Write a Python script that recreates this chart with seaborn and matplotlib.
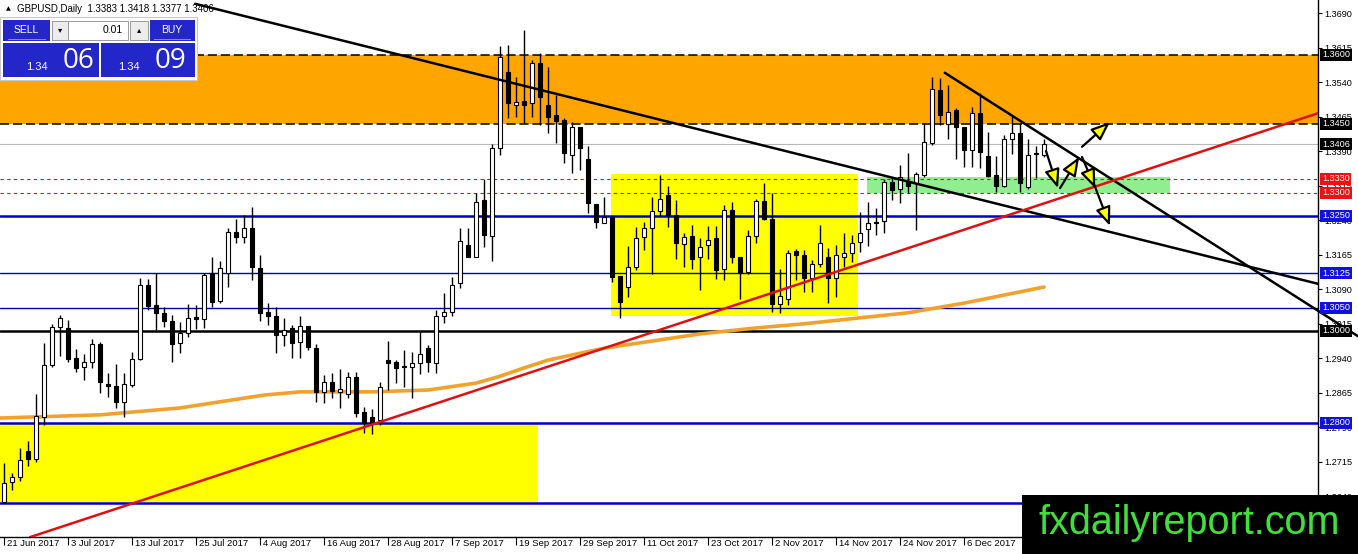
import matplotlib
matplotlib.use("Agg")
import numpy as np
import pandas as pd
import matplotlib.pyplot as plt
import matplotlib.transforms as mtransforms
from matplotlib.patches import Rectangle, FancyArrowPatch
import seaborn as sns

# ---------------------------
# Daily candles, index 0 = 21 Jun 2017
# ---------------------------
opens = [1.2628, 1.2672, 1.2681, 1.2739, 1.2722, 1.2813, 1.2925, 1.3007, 1.3005, 1.2940,
         1.2920, 1.2933, 1.2971, 1.2884, 1.2880, 1.2846, 1.2882, 1.2938, 1.3099, 1.3056,
         1.3039, 1.3022, 1.2973, 1.2996, 1.3030, 1.3025, 1.3125, 1.3065, 1.3125, 1.3214,
         1.3203, 1.3223, 1.3136, 1.3040, 1.3033, 1.2990, 1.3005, 1.2976, 1.3010, 1.2962,
         1.2867, 1.2889, 1.2867, 1.2862, 1.2899, 1.2824, 1.2812, 1.2806, 1.2936, 1.2933,
         1.2923, 1.2922, 1.2930, 1.2962, 1.2930, 1.3032, 1.3041, 1.3103, 1.3186, 1.3161,
         1.3284, 1.3206, 1.3397, 1.3563, 1.3491, 1.3500, 1.3495, 1.3582, 1.3491, 1.3469,
         1.3458, 1.3382, 1.3444, 1.3373, 1.3276, 1.3235, 1.3248, 1.3119, 1.3096, 1.3139,
         1.3203, 1.3223, 1.3261, 1.3295, 1.3252, 1.3189, 1.3206, 1.3160, 1.3186, 1.3201,
         1.3134, 1.3263, 1.3161, 1.3128, 1.3206, 1.3283, 1.3244, 1.3058, 1.3070, 1.3174,
         1.3165, 1.3114, 1.3145, 1.3161, 1.3114, 1.3161, 1.3170, 1.3194, 1.3221, 1.3237,
         1.3239, 1.3323, 1.3308, 1.3324, 1.3322, 1.3339, 1.3408, 1.3523, 1.3450, 1.3480,
         1.3444, 1.3392, 1.3474, 1.3380, 1.3339, 1.3315, 1.3418, 1.3429, 1.3312, 1.3385,
         1.3383]
highs = [1.2712, 1.2691, 1.2744, 1.2761, 1.2862, 1.2973, 1.3015, 1.3034, 1.3023, 1.2960,
         1.2949, 1.2983, 1.2976, 1.2907, 1.2928, 1.2907, 1.2954, 1.3114, 1.3112, 1.3125,
         1.3052, 1.3034, 1.3020, 1.3058, 1.3056, 1.3125, 1.3161, 1.3152, 1.3223, 1.3244,
         1.3252, 1.3270, 1.3165, 1.3060, 1.3052, 1.3027, 1.3012, 1.3032, 1.3010, 1.2971,
         1.2904, 1.2909, 1.2916, 1.2911, 1.2911, 1.2835, 1.2830, 1.2889, 1.2978, 1.2936,
         1.2958, 1.2954, 1.2998, 1.2969, 1.3045, 1.3081, 1.3117, 1.3223, 1.3223, 1.3300,
         1.3331, 1.3406, 1.3619, 1.3621, 1.3552, 1.3655, 1.3589, 1.3604, 1.3574, 1.3513,
         1.3462, 1.3455, 1.3444, 1.3402, 1.3276, 1.3291, 1.3248, 1.3119, 1.3184, 1.3226,
         1.3237, 1.3291, 1.3339, 1.3315, 1.3284, 1.3212, 1.3230, 1.3201, 1.3228, 1.3228,
         1.3273, 1.3281, 1.3161, 1.3219, 1.3286, 1.3321, 1.3300, 1.3134, 1.3176, 1.3177,
         1.3176, 1.3154, 1.3230, 1.3179, 1.3186, 1.3212, 1.3208, 1.3259, 1.3281, 1.3266,
         1.3331, 1.3335, 1.3360, 1.3386, 1.3345, 1.3451, 1.3551, 1.3549, 1.3534, 1.3484,
         1.3444, 1.3487, 1.3516, 1.3433, 1.3380, 1.3426, 1.3466, 1.3451, 1.3418, 1.3402,
         1.3418]
lows = [1.2625, 1.2654, 1.2674, 1.2706, 1.2715, 1.2795, 1.2922, 1.2945, 1.2933, 1.2911,
        1.2893, 1.2918, 1.2865, 1.2855, 1.2831, 1.2812, 1.2878, 1.2936, 1.3045, 1.3002,
        1.3009, 1.2933, 1.2951, 1.2987, 1.3003, 1.3005, 1.3052, 1.3061, 1.3096, 1.3190,
        1.3191, 1.3110, 1.3022, 1.3012, 1.2952, 1.2967, 1.2940, 1.2940, 1.2957, 1.2846,
        1.2842, 1.2853, 1.2831, 1.2853, 1.2813, 1.2778, 1.2776, 1.2795, 1.2871, 1.2886,
        1.2878, 1.2853, 1.2906, 1.2911, 1.2909, 1.3017, 1.3032, 1.3092, 1.3161, 1.3161,
        1.3183, 1.3152, 1.3382, 1.3462, 1.3465, 1.3451, 1.3465, 1.3447, 1.3429, 1.3409,
        1.3364, 1.3342, 1.3349, 1.3257, 1.3223, 1.3234, 1.3107, 1.3027, 1.3074, 1.3131,
        1.3176, 1.3123, 1.3249, 1.3225, 1.3155, 1.3139, 1.3134, 1.3089, 1.3157, 1.3112,
        1.3110, 1.3148, 1.3070, 1.3123, 1.3191, 1.3241, 1.3041, 1.3039, 1.3056, 1.3110,
        1.3085, 1.3085, 1.3139, 1.3061, 1.3074, 1.3139, 1.3150, 1.3172, 1.3184, 1.3208,
        1.3212, 1.3284, 1.3278, 1.3299, 1.3219, 1.3335, 1.3404, 1.3447, 1.3417, 1.3373,
        1.3357, 1.3357, 1.3353, 1.3335, 1.3302, 1.3313, 1.3384, 1.3302, 1.3308, 1.3333,
        1.3377]
closes = [1.2669, 1.2681, 1.2719, 1.2722, 1.2814, 1.2925, 1.3007, 1.3027, 1.2938, 1.2918,
          1.2933, 1.2971, 1.2889, 1.2880, 1.2846, 1.2884, 1.2938, 1.3099, 1.3054, 1.3039,
          1.3022, 1.2971, 1.2994, 1.3027, 1.3025, 1.3121, 1.3063, 1.3136, 1.3215, 1.3203,
          1.3223, 1.3138, 1.3039, 1.3033, 1.2990, 1.3002, 1.2974, 1.3010, 1.2964, 1.2867,
          1.2889, 1.2869, 1.2874, 1.2899, 1.2822, 1.2799, 1.2799, 1.2878, 1.2930, 1.2918,
          1.2920, 1.2930, 1.2949, 1.2933, 1.3032, 1.3041, 1.3099, 1.3196, 1.3161, 1.3281,
          1.3208, 1.3397, 1.3595, 1.3495, 1.3498, 1.3491, 1.3583, 1.3509, 1.3465, 1.3457,
          1.3386, 1.3442, 1.3397, 1.3277, 1.3237, 1.3247, 1.3117, 1.3063, 1.3139, 1.3201,
          1.3223, 1.3261, 1.3286, 1.3252, 1.3190, 1.3203, 1.3157, 1.3183, 1.3197, 1.3131,
          1.3263, 1.3160, 1.3125, 1.3206, 1.3283, 1.3244, 1.3058, 1.3075, 1.3170, 1.3165,
          1.3114, 1.3145, 1.3190, 1.3114, 1.3165, 1.3170, 1.3191, 1.3213, 1.3234, 1.3234,
          1.3323, 1.3306, 1.3335, 1.3315, 1.3341, 1.3411, 1.3525, 1.3469, 1.3476, 1.3442,
          1.3393, 1.3474, 1.3389, 1.3336, 1.3315, 1.3418, 1.3429, 1.3321, 1.3382, 1.3384,
          1.3406]

date_labels = ["21 Jun 2017", "3 Jul 2017", "13 Jul 2017", "25 Jul 2017", "4 Aug 2017",
               "16 Aug 2017", "28 Aug 2017", "7 Sep 2017", "19 Sep 2017", "29 Sep 2017",
               "11 Oct 2017", "23 Oct 2017", "2 Nov 2017", "14 Nov 2017", "24 Nov 2017",
               "6 Dec 2017"]

# moving average (orange), read at a few bars
ma_idx = [-0.5, 12, 22, 32.5, 37, 46, 53, 59, 62, 65, 68, 75, 87, 94, 100, 113, 120, 130]
ma_val = [1.2810, 1.2817, 1.2832, 1.2860, 1.2867, 1.2867, 1.2871, 1.2886, 1.2901, 1.2919,
          1.2936, 1.2962, 1.2993, 1.3006, 1.3015, 1.3039, 1.3060, 1.3095]

# price axis
y_ticks = [1.3690, 1.3615, 1.3540, 1.3465, 1.3390, 1.3315, 1.3240, 1.3165, 1.3090,
           1.3015, 1.2940, 1.2865, 1.2790, 1.2715, 1.2640]

# horizontal levels
resist_zone = [1.3450, 1.3600]
zone_dashed = [1.3600, 1.3450]
bid_line = [1.3406]
red_dashed = [1.3330, 1.3300]
blue_thick = [1.3250, 1.2800, 1.2626]
blue_thin = [1.3125, 1.3050]
black_thick = [1.3000]

label_black = [1.3600, 1.3450, 1.3406, 1.3000]
label_red = [1.3330, 1.3300]
label_blue = [1.3250, 1.3125, 1.3050, 1.2800]

# boxes (bar-index range, price range)
yellow_low = ([-0.5, 66.75], [1.2628, 1.2800])
yellow_mid = ([75.9, 106.8], [1.3033, 1.3341])
green_box = ([107.9, 145.75], [1.3299, 1.3334])

# trend lines
trend_long = ([23.9, 164.25], [1.3711, 1.3102])
trend_short = ([117.6, 169.25], [1.3561, 1.2988])
trend_up = ([3.25, 164.25], [1.2551, 1.3473])

# scenario arrows (x0, y0, x1, y1)
arrows = [(130.25, 1.3391, 131.75, 1.3310),
          (132.0, 1.3310, 134.4, 1.3378),
          (134.75, 1.3378, 136.4, 1.3310),
          (134.75, 1.3400, 138.25, 1.3454),
          (136.25, 1.3319, 138.25, 1.3228)]

# ---------------------------
# Figure
# ---------------------------
sns.set_theme(style="white")
plt.rcParams['font.family'] = ['Liberation Sans', 'DejaVu Sans']

W, H = 1358, 554
fig = plt.figure(figsize=(W / 100, H / 100), dpi=100)
fig.patch.set_facecolor("white")
ax = fig.add_axes([0, 17 / H, 1318 / W, 537 / H])
ax.set_facecolor("white")
ax.set_xlim(-0.5, 164.25)
ax.set_ylim(1.25513, 1.37193)

# zones
ax.add_patch(Rectangle((-0.5, resist_zone[0]), 170, resist_zone[1] - resist_zone[0],
                       fc="#FFA500", ec="none", zorder=0))
for (xs, ys), col in [(yellow_low, "#FFFF00"), (yellow_mid, "#FFFF00"), (green_box, "#90EE90")]:
    ax.add_patch(Rectangle((xs[0], ys[0]), xs[1] - xs[0], ys[1] - ys[0],
                           fc=col, ec="none", zorder=0.5))

# horizontal lines
for p in zone_dashed:
    ax.axhline(p, color="black", lw=1.1, ls=(0, (6, 2.5)), zorder=1)
for p in bid_line:
    ax.axhline(p, color="#b8b8b8", lw=0.8, zorder=1)
for p in red_dashed:
    ax.axhline(p, color="#dd1111", lw=0.8, ls=(0, (3, 3)), zorder=1)
for p in blue_thick:
    ax.axhline(p, color="#0000c8", lw=1.8, zorder=1)
for p in blue_thin:
    ax.axhline(p, color="#0000b0", lw=1.0, zorder=1)
for p in black_thick:
    ax.axhline(p, color="black", lw=1.8, zorder=1)

# moving average
ma_df = pd.DataFrame({"bar": ma_idx, "ma": ma_val})
sns.lineplot(data=ma_df, x="bar", y="ma", ax=ax, color="#F2A22C", lw=2.6,
             sort=True, estimator=None, zorder=2)

# candles
o = np.array(opens)
h = np.array(highs)
l = np.array(lows)
c = np.array(closes)
idx = np.arange(len(o))
up = c >= o
body_bot = np.minimum(o, c)
body_h = np.maximum(np.abs(c - o), 0.00015)
ax.vlines(idx, l, h, color="black", lw=1, zorder=3)
ax.bar(idx[up], body_h[up], bottom=body_bot[up], width=0.6,
       color="white", edgecolor="black", lw=0.8, zorder=4)
ax.bar(idx[~up], body_h[~up], bottom=body_bot[~up], width=0.6,
       color="black", edgecolor="black", lw=0.8, zorder=4)

# trend lines
ax.plot(*trend_long, color="black", lw=1.8, zorder=5)
ax.plot(*trend_short, color="black", lw=1.8, zorder=5, clip_on=False)
ax.plot(*trend_up, color="#e01010", lw=1.8, zorder=5)

# arrows
for x0, y0, x1, y1 in arrows:
    ax.add_patch(FancyArrowPatch((x0, y0), (x1, y1),
                                 arrowstyle="-|>,head_length=0.95,head_width=0.38",
                                 mutation_scale=12, fc="#FFFF00", ec="black",
                                 lw=1.6, shrinkA=0, shrinkB=0, zorder=6))

# axes styling
for s in ["left", "top"]:
    ax.spines[s].set_visible(False)
for s in ["right", "bottom"]:
    ax.spines[s].set_color("black")
    ax.spines[s].set_linewidth(1)

ax.yaxis.tick_right()
ax.set_yticks(y_ticks)
ax.set_yticklabels([f"{v:.4f}" for v in y_ticks])
ax.tick_params(axis="y", length=3, width=0.8, pad=1.5, labelsize=6.6,
               colors="black", right=True, left=False)

tick_pos = list(range(0, 8 * len(date_labels), 8))
ax.set_xticks(tick_pos)
ax.set_xticklabels(date_labels)
ax.tick_params(axis="x", length=5.5, width=0.8, pad=-4, labelsize=6.8,
               colors="black", bottom=True)
offset = mtransforms.ScaledTranslation(2 / 72, 0, fig.dpi_scale_trans)
for lab in ax.get_xticklabels():
    lab.set_ha("left")
    lab.set_transform(lab.get_transform() + offset)
ax.set_xlabel("")
ax.set_ylabel("")
ax.grid(False)

# coloured price labels on the right axis
lab_tr = mtransforms.blended_transform_factory(ax.transAxes, ax.transData)
for prices, col in [(label_black, "black"), (label_red, "#ee1111"), (label_blue, "#1010e0")]:
    for p in prices:
        ax.text(1.0 + 4 / 1318, p, f"{p:.4f}", transform=lab_tr, ha="left", va="center",
                color="white", fontsize=6.6, clip_on=False, zorder=10,
                bbox=dict(boxstyle="square,pad=0.18", fc=col, ec="none"))


# ---------------------------
# One-click trading panel & header (pixel placement)
# ---------------------------
def box(x0, y0, x1, y1, **kw):
    r = Rectangle((x0 / W, 1 - y1 / H), (x1 - x0) / W, (y1 - y0) / H,
                  transform=fig.transFigure, **kw)
    fig.add_artist(r)


def ftxt(x, y, s, **kw):
    fig.text(x / W, 1 - y / H, s, **kw)


ftxt(8, 9, "\u25b2", fontsize=4.5, color="black", ha="center", va="center",
     family=["DejaVu Sans"], zorder=12)
ftxt(17, 9, "GBPUSD,Daily  1.3383 1.3418 1.3377 1.3406", fontsize=7, color="black",
     ha="left", va="center", zorder=12)

box(0, 17, 197, 80, fc="white", ec="#c8c8c8", lw=0.8, zorder=11)
blue = "#2326c8"
box(3, 20, 50, 41, fc=blue, ec="none", zorder=12)
box(150, 20, 195, 41, fc=blue, ec="none", zorder=12)
box(3, 43, 99, 77, fc=blue, ec="none", zorder=12)
box(101, 43, 195, 77, fc=blue, ec="none", zorder=12)
box(8, 39, 46, 39.8, fc="#8a8ae8", ec="none", zorder=13)
box(154, 39, 191, 39.8, fc="#8a8ae8", ec="none", zorder=13)
box(52, 21, 68, 40, fc="#ececec", ec="#9a9a9a", lw=0.7, zorder=12)
box(68, 21, 128, 40, fc="white", ec="#9a9a9a", lw=0.7, zorder=12)
box(130, 21, 148, 40, fc="#ececec", ec="#9a9a9a", lw=0.7, zorder=12)

ftxt(26, 30, "SELL", fontsize=7.5, color="white", ha="center", va="center", zorder=14)
ftxt(172, 30, "BUY", fontsize=7.5, color="white", ha="center", va="center", zorder=14)
ftxt(60, 30, "\u25be", fontsize=6, color="black", ha="center", va="center",
     family=["DejaVu Sans"], zorder=14)
ftxt(139, 30, "\u25b4", fontsize=6, color="black", ha="center", va="center",
     family=["DejaVu Sans"], zorder=14)
ftxt(123, 30, "0.01", fontsize=7.5, color="black", ha="right", va="center", zorder=14)
ftxt(26, 67, "1.34", fontsize=8, color="white", ha="left", va="center", zorder=14)
ftxt(63, 61, "06", fontsize=20, color="white", ha="left", va="center",
     family=["Open Sans", "DejaVu Sans"], zorder=14)
ftxt(118, 67, "1.34", fontsize=8, color="white", ha="left", va="center", zorder=14)
ftxt(155, 61, "09", fontsize=20, color="white", ha="left", va="center",
     family=["Open Sans", "DejaVu Sans"], zorder=14)

# watermark
box(1022, 495, 1358, 554, fc="black", ec="none", zorder=20)
ftxt(1189, 523, "fxdailyreport.com", fontsize=28.5, color="#3fe03a", ha="center",
     va="center", zorder=21)

fig.savefig("out.png", dpi=100)
plt.close(fig)
print("saved out.png")
